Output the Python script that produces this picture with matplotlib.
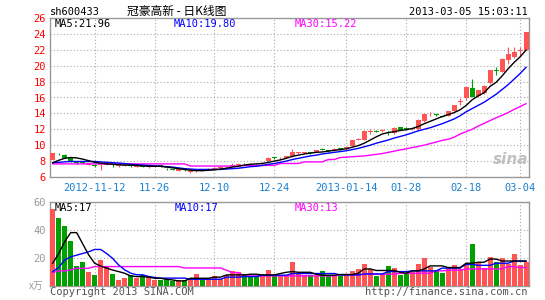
import numpy as np
import matplotlib.pyplot as plt

# daily K data for sh600433, 80 trading days (2012-11-01 .. 2013-03-05)
opens = [8.1, 8.9, 8.8, 8.4, 8.0, 7.9, 7.5, 7.5, 7.5, 7.55,
         7.6, 7.35, 7.4, 7.45, 7.3, 7.35, 7.25, 7.3, 7.45, 7.0,
         6.95, 6.75, 6.95, 6.65, 6.7, 6.85, 6.9, 7.05, 7.1, 7.2,
         7.4, 7.55, 7.72, 7.75, 7.72, 7.7, 8.0, 8.45, 8.35, 8.45,
         8.6, 9.03, 9.0, 9.05, 9.2, 9.5, 9.35, 9.35, 9.6, 9.6,
         9.9, 10.7, 10.7, 11.65, 11.75, 11.8, 11.7, 11.5, 12.3, 12.15,
         12.05, 12.0, 13.1, 13.75, 13.85, 13.65, 13.7, 14.3, 15.45, 15.9,
         17.2, 16.2, 16.6, 17.8, 19.35, 19.2, 20.7, 21.1, 21.9, 22.0]
closes = [9.0, 8.85, 8.45, 7.95, 7.75, 7.7, 7.7, 7.4, 7.55, 7.7,
          7.5, 7.45, 7.5, 7.4, 7.38, 7.3, 7.3, 7.35, 7.3, 6.95,
          6.9, 6.95, 6.85, 6.7, 6.8, 6.82, 7.05, 7.1, 7.15, 7.3,
          7.5, 7.65, 7.7, 7.7, 7.7, 7.75, 8.45, 8.4, 8.45, 8.6,
          9.15, 9.05, 9.05, 9.0, 9.4, 9.45, 9.3, 9.55, 9.55, 9.8,
          10.6, 10.75, 11.8, 11.75, 11.7, 11.9, 11.6, 12.2, 11.95, 12.1,
          12.1, 13.2, 13.9, 13.85, 13.8, 13.6, 14.3, 15.0, 15.55, 17.3,
          16.1, 16.9, 17.5, 19.4, 19.3, 20.9, 21.5, 21.7, 22.0, 24.25]
highs = [9.05, 9.0, 8.9, 8.45, 8.05, 7.95, 7.75, 7.6, 7.75, 7.75,
         7.65, 7.5, 7.55, 7.5, 7.45, 7.4, 7.35, 7.4, 7.5, 7.1,
         7.0, 7.0, 7.0, 6.8, 6.85, 6.95, 7.1, 7.2, 7.25, 7.35,
         7.7, 7.75, 7.8, 7.8, 7.8, 7.85, 8.5, 8.5, 8.5, 8.7,
         9.5, 9.2, 9.15, 9.15, 9.45, 9.7, 9.45, 9.6, 9.65, 9.95,
         10.65, 10.95, 11.85, 12.1, 11.9, 12.1, 11.75, 12.25, 12.35, 12.3,
         12.2, 13.25, 14.1, 14.2, 13.95, 13.7, 14.35, 15.05, 15.9, 17.35,
         18.3, 17.0, 17.55, 19.45, 19.85, 20.95, 22.3, 22.4, 22.4, 24.3]
lows = [8.1, 8.8, 8.4, 7.9, 7.6, 7.65, 7.45, 7.3, 6.9, 7.5,
        7.25, 7.3, 7.35, 7.3, 7.25, 7.2, 7.15, 7.2, 7.25, 6.85,
        6.85, 6.7, 6.8, 6.5, 6.6, 6.75, 6.85, 7.0, 7.05, 7.15,
        7.35, 7.5, 7.6, 7.65, 7.6, 7.65, 7.95, 8.3, 8.3, 8.4,
        8.55, 8.9, 8.95, 8.9, 9.15, 9.35, 9.2, 9.3, 9.45, 9.55,
        9.85, 10.6, 10.65, 11.4, 11.6, 11.7, 11.25, 11.45, 11.9, 11.95,
        11.95, 11.95, 12.9, 13.65, 13.7, 13.55, 13.65, 14.3, 15.1, 15.7,
        16.0, 16.0, 16.5, 17.75, 18.8, 19.15, 20.2, 21.0, 21.2, 21.95]

ma5 = [7.8, 8.1, 8.35, 8.45, 8.4, 8.25, 8.05, 7.85, 7.75, 7.65,
       7.6, 7.55, 7.5, 7.5, 7.45, 7.4, 7.35, 7.35, 7.35, 7.25,
       7.15, 7.05, 6.95, 6.85, 6.8, 6.8, 6.85, 6.9, 7.0, 7.1,
       7.25, 7.35, 7.5, 7.6, 7.65, 7.7, 7.85, 8.0, 8.15, 8.35,
       8.6, 8.75, 8.9, 9.0, 9.1, 9.15, 9.25, 9.35, 9.45, 9.55,
       9.75, 9.95, 10.25, 10.65, 11.05, 11.4, 11.6, 11.7, 11.85, 11.95,
       12.1, 12.35, 12.7, 13.0, 13.3, 13.6, 13.85, 14.1, 14.45, 15.0,
       15.7, 16.2, 16.6, 17.4, 17.9, 18.7, 19.6, 20.4, 21.1, 21.96]
ma10 = [7.8, 7.85, 7.9, 7.95, 7.95, 7.95, 7.95, 7.95, 7.9, 7.85,
        7.8, 7.75, 7.7, 7.6, 7.55, 7.5, 7.45, 7.4, 7.35, 7.3,
        7.25, 7.15, 7.05, 7.0, 6.95, 6.95, 6.95, 6.95, 6.95, 7.0,
        7.05, 7.1, 7.2, 7.3, 7.35, 7.45, 7.6, 7.7, 7.85, 8.0,
        8.2, 8.35, 8.5, 8.65, 8.75, 8.9, 9.0, 9.1, 9.2, 9.3,
        9.45, 9.6, 9.8, 10.0, 10.25, 10.45, 10.65, 10.9, 11.1, 11.3,
        11.55, 11.8, 12.0, 12.2, 12.45, 12.7, 13.0, 13.3, 13.7, 14.2,
        14.6, 15.0, 15.4, 15.9, 16.4, 17.0, 17.6, 18.3, 19.0, 19.8]
ma30 = [7.65] * 23 + [7.38] * 9 + [7.46] * 6 + [7.7] * 4 + [7.9] * 4 + [
        8.2, 8.2, 8.45, 8.5, 8.55, 8.6,
        8.65, 8.75, 8.85, 8.95, 9.1, 9.25, 9.4, 9.55, 9.7, 9.85,
        10.0, 10.2, 10.4, 10.6, 10.75, 11.0, 11.4, 11.7, 12.0, 12.4,
        12.75, 13.1, 13.45, 13.75, 14.1, 14.5, 14.85, 15.22]

# volume, in 10k lots
volume = [54.8, 48.4, 42.6, 31.9, 14.1, 17.0, 9.8, 7.6, 18.4, 13.4,
          8.3, 4.1, 5.5, 7.6, 5.5, 7.6, 6.9, 4.1, 4.0, 4.8,
          2.9, 4.1, 3.6, 5.5, 8.3, 4.8, 4.8, 6.9, 4.8, 7.6,
          10.5, 9.8, 8.3, 6.9, 6.9, 6.9, 11.2, 6.9, 7.6, 6.9,
          16.9, 8.3, 7.6, 7.6, 6.9, 10.5, 6.9, 6.9, 6.9, 7.6,
          10.5, 11.9, 15.5, 11.9, 6.9, 8.3, 14.1, 12.6, 7.6, 8.3,
          9.8, 15.5, 19.8, 13.4, 11.2, 9.1, 12.6, 14.8, 11.9, 14.8,
          29.8, 16.2, 12.6, 20.5, 16.9, 19.8, 15.5, 22.6, 14.8, 16.9]
vma5 = [16, 23, 31.4, 38, 38, 30, 22, 16, 14, 12.5,
        11.1, 10.0, 8.8, 6.9, 6.4, 6.4, 6.0, 5.2, 5.2, 4.5,
        4.0, 3.3, 3.3, 5.2, 5.2, 5.2, 5.2, 6.0, 6.0, 7.6,
        7.6, 7.6, 7.6, 8.1, 8.1, 7.6, 7.6, 7.6, 8.6, 9.5,
        10.0, 9.5, 9.5, 9.5, 8.0, 7.4, 7.4, 7.4, 7.9, 7.9,
        7.9, 8.8, 11.9, 11.9, 10.8, 10.8, 10.8, 10.8, 9.5, 8.8,
        10.5, 10.5, 11.9, 14.1, 14.1, 14.1, 12.9, 12.9, 12.9, 16.0,
        16.0, 16.7, 16.7, 19.0, 19.0, 17.6, 17.6, 17.6, 17.6, 17.6]
vma10 = [10, 13, 18.3, 20.6, 21.8, 23, 24.2, 25.9, 25.9, 23,
         19.5, 14.8, 11.3, 8.9, 7.7, 7.7, 6.5, 5.8, 5.3, 5.3,
         5.3, 5.3, 5.3, 4.5, 4.5, 4.5, 4.5, 4.5, 4.5, 6.0,
         6.0, 6.0, 6.4, 6.4, 6.4, 7.4, 7.4, 7.4, 7.4, 7.4,
         8.6, 8.6, 8.6, 8.6, 8.6, 8.6, 8.6, 8.6, 7.6, 7.6,
         7.6, 7.6, 8.3, 8.3, 8.3, 8.3, 10.0, 10.0, 10.0, 10.0,
         10.5, 10.5, 10.5, 10.5, 10.5, 12.5, 12.5, 12.5, 12.5, 15.2,
         15.2, 14.5, 14.5, 14.5, 16.0, 16.0, 16.0, 17.5, 17.5, 17.5]
vma30 = [9.3, 10.5, 10.5, 11.2, 12.4, 12.4, 12.4] + [13.6] * 15 + [12.6] * 7 + [
         11.0, 9.3, 9.3] + [6.9] * 16 + [7.6] * 4 + [8.1] * 6 + [8.8] * 6 + [
         10.5, 10.5, 11.0, 11.0, 11.0] + [11.9] * 7 + [13.6, 13.6, 12.9, 12.9]

tick_idx = [7, 17, 27, 37, 49, 59, 69, 78]
tick_lbl = ["2012-11-12", "11-26", "12-10", "12-24", "2013-01-14", "01-28", "02-18", "03-04"]

RED = "#ff5555"
GREEN = "#00a000"
GRAY = "#999999"
MONO = "DejaVu Sans Mono"

o = np.array(opens); c = np.array(closes)
h = np.array(highs); l = np.array(lows)
x = np.arange(len(c))
up = c >= o
cols = np.where(up, RED, GREEN)

fig = plt.figure(figsize=(5.45, 3.0), dpi=100)
W, H = 545.0, 300.0
ax = fig.add_axes([50 / W, 1 - 177 / H, 479 / W, 159 / H])
axv = fig.add_axes([50 / W, 1 - 285.5 / H, 479 / W, 83.5 / H])

# ---- price panel
bw = 5 / 6.0
ax.vlines(x, l, h, colors=cols, lw=0.8, zorder=3)
body_h = np.maximum(np.abs(c - o), 0.1)
body_b = np.minimum(o, c)
ax.bar(x, body_h, bottom=body_b, width=bw, color=cols, lw=0, zorder=4)
ax.plot(x, ma30, color="#ff00ff", lw=1.0, zorder=5)
ax.plot(x, ma10, color="#0000ff", lw=1.0, zorder=5)
ax.plot(x, ma5, color="black", lw=1.0, zorder=5)

ax.set_xlim(-0.45, 79.5)
ax.set_ylim(6, 26)
ax.set_yticks(range(6, 27, 2))
ax.set_yticklabels([str(v) for v in range(6, 27, 2)], color="red",
                   fontsize=7.5, family=MONO)
ax.set_xticks(tick_idx)
ax.set_xticklabels(tick_lbl, color="#1a80d0", fontsize=7.5, family=MONO)
ax.tick_params(length=0, pad=3)
ax.tick_params(axis="x", pad=4)
ax.grid(True, color="#aaaaaa", ls=(0, (1, 2)), lw=0.8)
ax.set_axisbelow(True)
for s in ax.spines.values():
    s.set_color(GRAY)
    s.set_linewidth(1.0)

ax.text(0.01, 0.995, "MA5:21.96", transform=ax.transAxes, color="black",
        fontsize=7.5, family=MONO, va="top")
ax.text((174 - 50) / 479, 0.995, "MA10:19.80", transform=ax.transAxes,
        color="#0000ff", fontsize=7.5, family=MONO, va="top")
ax.text((295 - 50) / 479, 0.995, "MA30:15.22", transform=ax.transAxes,
        color="#ff00ff", fontsize=7.5, family=MONO, va="top")
ax.text(0.962, 0.11, "sina", transform=ax.transAxes, color="#c0c0c0",
        fontsize=11, weight="bold", style="italic", ha="center", va="center")

# ---- volume panel
axv.bar(x, volume, width=bw, color=cols, lw=0, zorder=3)
axv.plot(x, vma30, color="#ff00ff", lw=1.0, zorder=4)
axv.plot(x, vma10, color="#0000ff", lw=1.0, zorder=4)
axv.plot(x, vma5, color="black", lw=1.0, zorder=4)
axv.set_xlim(-0.45, 79.5)
axv.set_ylim(0, 60)
axv.set_yticks([20, 40, 60])
axv.set_yticklabels(["20", "40", "60"], color=GRAY, fontsize=7.5, family=MONO)
axv.set_xticks(tick_idx)
axv.set_xticklabels([])
axv.tick_params(length=0, pad=3)
axv.grid(True, color="#aaaaaa", ls=(0, (1, 2)), lw=0.8)
axv.set_axisbelow(True)
for s in axv.spines.values():
    s.set_color(GRAY)
    s.set_linewidth(1.0)

axv.text(0.01, 0.99, "MA5:17", transform=axv.transAxes, color="black",
         fontsize=7.5, family=MONO, va="top")
axv.text((175 - 50) / 479, 0.99, "MA10:17", transform=axv.transAxes,
         color="#0000ff", fontsize=7.5, family=MONO, va="top")
axv.text((295 - 50) / 479, 0.99, "MA30:13", transform=axv.transAxes,
         color="#ff00ff", fontsize=7.5, family=MONO, va="top")

# ---- header / footer texts
fig.text(50 / W, 1 - 12 / H, "sh600433", fontsize=7.5, family=MONO, va="center")
fig.text(177 / W, 1 - 11 / H, "冠豪高新 - 日K线图", fontsize=8.5,
         family=["Noto Sans CJK SC", "DejaVu Sans"], ha="center", va="center")
fig.text(528 / W, 1 - 12 / H, "2013-03-05 15:03:11", fontsize=7.5,
         family=MONO, ha="right", va="center")
fig.text(43 / W, 1 - 286 / H, "x万", fontsize=7, color=GRAY,
         family=["Noto Sans CJK SC", "DejaVu Sans"], ha="right", va="center")
fig.text(50 / W, 1 - 292 / H, "Copyright 2013 SINA.COM", fontsize=7.5,
         color="#555555", family=MONO, va="center")
fig.text(528 / W, 1 - 292 / H, "http://finance.sina.com.cn", fontsize=7.5,
         color="#555555", family=MONO, ha="right", va="center")

fig.savefig("out.png", dpi=100, facecolor="white")
